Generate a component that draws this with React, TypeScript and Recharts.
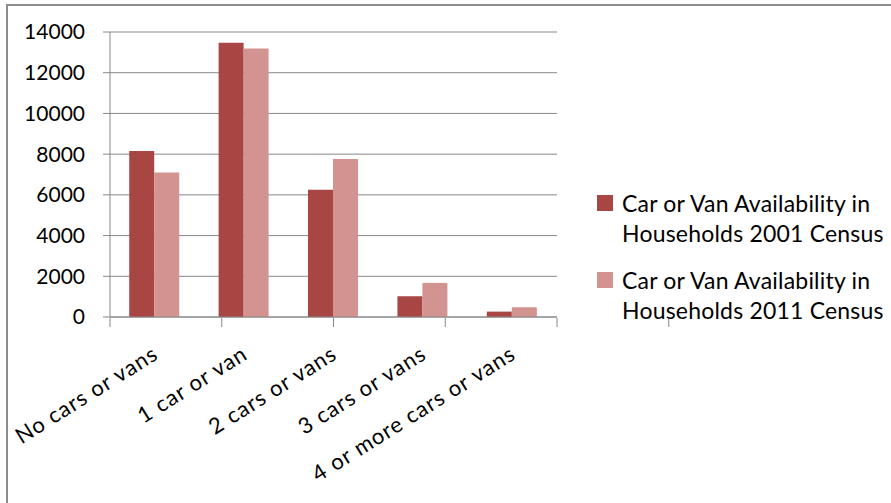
import React from "react";
import { BarChart, Bar, XAxis, YAxis, CartesianGrid, Customized } from "recharts";

const categories = ["No cars or vans", "1 car or van", "2 cars or vans", "3 cars or vans", "4 or more cars or vans"];
const census2001 = [8150, 13470, 6250, 1020, 265];
const census2011 = [7100, 13190, 7760, 1675, 480];
const yTicks = [0, 2000, 4000, 6000, 8000, 10000, 12000, 14000];
const seriesNames = [
  "Car or Van Availability in Households 2001 Census",
  "Car or Van Availability in Households 2011 Census",
];
const seriesColors = ["#A84644", "#D29391"];
const edgeTicks = categories.map((_, i) => i).concat([categories.length]);

const data = categories.map((c, i) => ({ name: c, v2001: census2001[i], v2011: census2011[i] }));

const FONT = "Lato, 'Open Sans', sans-serif";
const GRAY = "#888888";
const FRAME = "#8c8c8c";

const XTick = (props: any) => {
  const { x, y, payload } = props;
  const ax = x + 5;
  return (
    <text
      x={ax}
      y={y}
      transform={`rotate(-32, ${ax}, ${y})`}
      textAnchor="end"
      fontFamily={FONT}
      fontSize={22}
      letterSpacing={1}
      fill="#000"
    >
      {payload.value}
    </text>
  );
};

const EmptyTick = () => <g />;

const Frame = () => <path d="M7 520 V5 H892" fill="none" stroke={FRAME} strokeWidth={2} />;

export default function App() {
  return (
    <div
      style={{
        position: "relative",
        width: 891,
        height: 503,
        overflow: "hidden",
        background: "#fff",
      }}
    >
      <style>{"html,body{margin:0;padding:0;background:#fff;}"}</style>
      <div style={{ position: "absolute", left: 0, top: 0 }}>
        <BarChart
          width={891}
          height={503}
          data={data}
          margin={{ top: 32, right: 334, bottom: 184, left: 0 }}
          barCategoryGap="21.5%"
          barGap={0}
        >
          <CartesianGrid vertical={false} stroke={GRAY} strokeWidth={1} />
          <XAxis
            dataKey="name"
            height={1}
            tickSize={0}
            tickMargin={41}
            tickLine={false}
            axisLine={{ stroke: GRAY, strokeWidth: 1 }}
            tick={<XTick />}
            interval={0}
          />
          <XAxis
            xAxisId="edges"
            type="number"
            domain={[0, categories.length]}
            ticks={edgeTicks}
            allowDataOverflow
            height={1}
            axisLine={false}
            tickSize={9}
            tickLine={{ stroke: GRAY, strokeWidth: 1 }}
            tick={<EmptyTick />}
            interval={0}
          />
          <YAxis
            width={110}
            domain={[0, 14000]}
            ticks={yTicks}
            interval={0}
            tickSize={7}
            tickMargin={18}
            axisLine={{ stroke: GRAY, strokeWidth: 1 }}
            tickLine={{ stroke: GRAY, strokeWidth: 1 }}
            tick={{ fontFamily: FONT, fontSize: 21, fill: "#000" }}
          />
          <Bar dataKey="v2001" name={seriesNames[0]} fill={seriesColors[0]} isAnimationActive={false} />
          <Bar dataKey="v2011" name={seriesNames[1]} fill={seriesColors[1]} isAnimationActive={false} />
          <Customized component={Frame} />
        </BarChart>
      </div>
      <div
        style={{
          position: "absolute",
          left: 597,
          top: 188,
          fontFamily: FONT,
          fontSize: 23,
          letterSpacing: 0.2,
          lineHeight: "30px",
          color: "#000",
        }}
      >
        {seriesNames.map((n, i) => (
          <div key={n} style={{ display: "flex", alignItems: "flex-start", height: 60, marginBottom: 17 }}>
            <div style={{ width: 16, height: 16, marginTop: 7, background: seriesColors[i], flex: "none" }} />
            <div style={{ marginLeft: 9, width: 268 }}>{n}</div>
          </div>
        ))}
      </div>
    </div>
  );
}
